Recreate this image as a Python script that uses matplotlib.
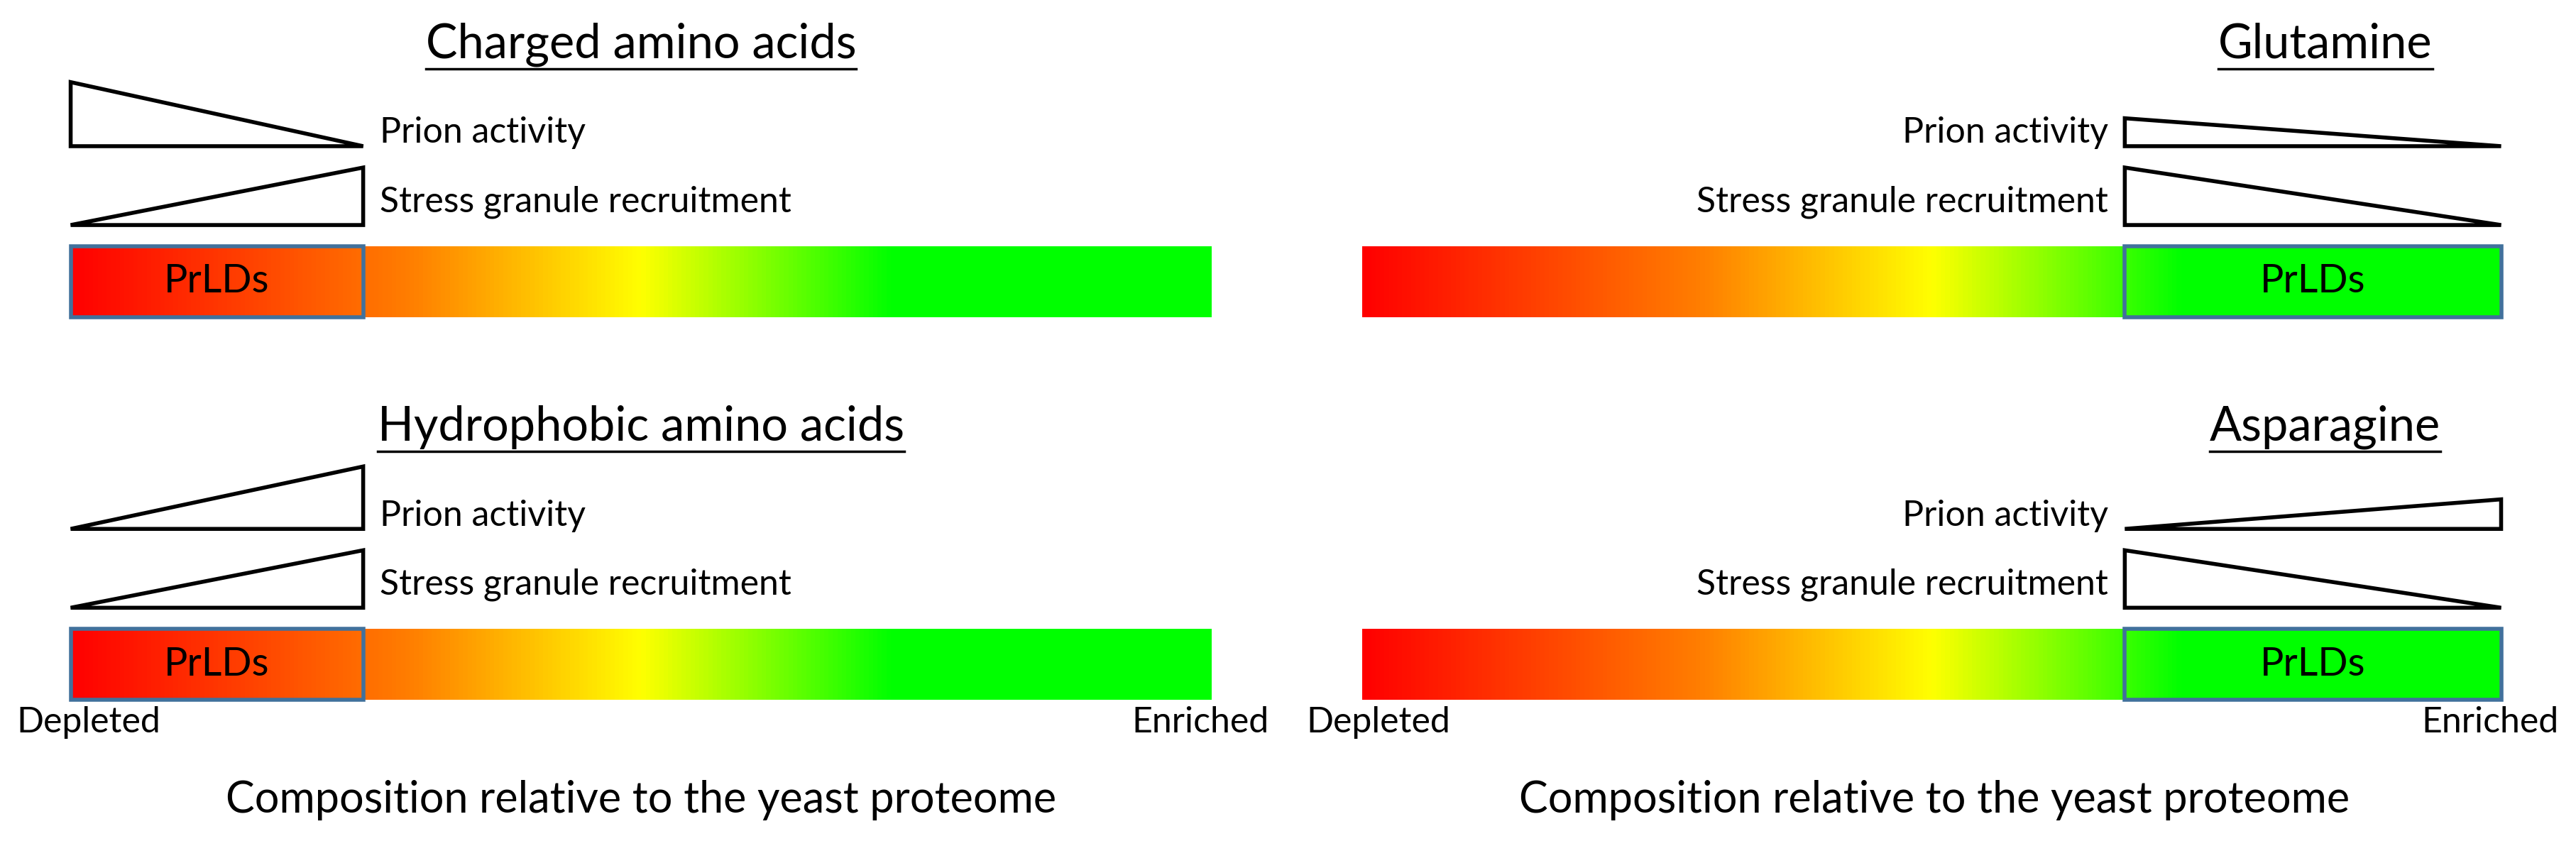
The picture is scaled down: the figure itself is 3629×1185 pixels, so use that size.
import matplotlib.pyplot as plt
import numpy as np
from matplotlib.colors import LinearSegmentedColormap
from matplotlib.patches import Polygon, Rectangle

plt.rcParams['font.family'] = ['Lato', 'DejaVu Sans']

# panel data: title, prion triangle (left height, right height), stress triangle
titles = ["Charged amino acids", "Hydrophobic amino acids", "Glutamine", "Asparagine"]
prion_heights = [(39, 0), (0, 38), (17, 0), (0, 18)]
stress_heights = [(0, 35), (0, 35), (35, 0), (35, 0)]
prld_side = ["left", "left", "right", "right"]
row_y = [0, 233, 0, 233]
col = [0, 0, 1, 1]

# coordinates in a 1568 x 512 drawing space
W, H = 1568, 512
fig = plt.figure(figsize=(36.3, 11.85), dpi=100)
ax = fig.add_axes([0, 0, 1, 1])
ax.set_xlim(0, W)
ax.set_ylim(H, 0)
ax.axis("off")

cmap = LinearSegmentedColormap.from_list("g", [(0, "#ff0000"), (0.3, "#ff8000"),
                                              (0.5, "#ffff00"), (0.72, "#00ff00"), (1, "#00ff00")])
grad = np.linspace(0, 1, 512)[None, :]
bars = [(43, 737), (829, 1522)]
tri_x = [(43, 221), (1293, 1522)]
fs_lab = 36

def tri(x0, x1, ybot, hl, hr):
    pts = [(x0, ybot), (x1, ybot), (x1, ybot - hr), (x0, ybot - hl)]
    ax.add_patch(Polygon(pts, closed=True, fill=False, edgecolor="black", lw=4, joinstyle="miter"))

for t, ph, sh, side, dy, c in zip(titles, prion_heights, stress_heights, prld_side, row_y, col):
    bx0, bx1 = bars[c]
    tx0, tx1 = tri_x[c]
    cx = 390 if c == 0 else 1415
    txt = ax.text(cx, 27 + dy, t, ha="center", va="center", fontsize=48)
    fig.canvas.draw()
    bb = txt.get_window_extent().transformed(ax.transData.inverted())
    ax.plot([min(bb.x0, bb.x1), max(bb.x0, bb.x1)], [42 + dy, 42 + dy], color="black", lw=2.5)
    tri(tx0, tx1, 89 + dy, *ph)
    tri(tx0, tx1, 137 + dy, *sh)
    if c == 0:
        ax.text(231, 81 + dy, "Prion activity", ha="left", va="center", fontsize=fs_lab)
        ax.text(231, 123 + dy, "Stress granule recruitment", ha="left", va="center", fontsize=fs_lab)
    else:
        ax.text(1283, 81 + dy, "Prion activity", ha="right", va="center", fontsize=fs_lab)
        ax.text(1283, 123 + dy, "Stress granule recruitment", ha="right", va="center", fontsize=fs_lab)
    ax.imshow(grad, cmap=cmap, aspect="auto", extent=(bx0, bx1, 193 + dy, 150 + dy), zorder=1)
    px0, px1 = (43, 221) if side == "left" else (1293, 1522)
    ax.add_patch(Rectangle((px0, 150 + dy), px1 - px0, 43, fill=False,
                           edgecolor="#41719c", lw=4, zorder=3))
    ax.text((px0 + px1) / 2, 171.5 + dy, "PrLDs", ha="center", va="center", fontsize=40, zorder=4)

ax.text(10, 440, "Depleted", ha="left", va="center", fontsize=fs_lab)
ax.text(772, 440, "Enriched", ha="right", va="center", fontsize=fs_lab)
ax.text(795, 440, "Depleted", ha="left", va="center", fontsize=fs_lab)
ax.text(1557, 440, "Enriched", ha="right", va="center", fontsize=fs_lab)
ax.text(390, 487, "Composition relative to the yeast proteome", ha="center", va="center", fontsize=44)
ax.text(1177, 487, "Composition relative to the yeast proteome", ha="center", va="center", fontsize=44)

fig.savefig("out.png", dpi=100)
